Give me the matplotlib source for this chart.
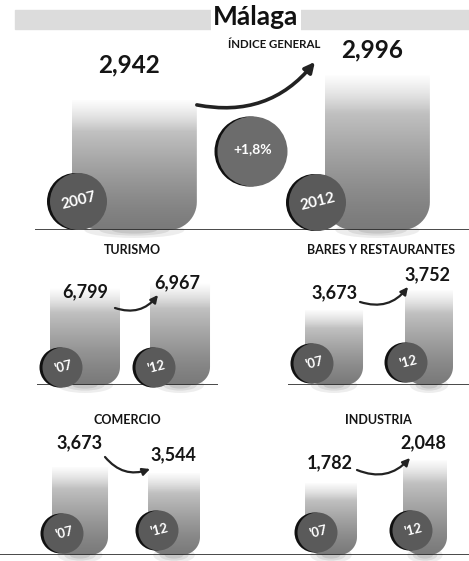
import numpy as np
import matplotlib.pyplot as plt
from matplotlib.path import Path
from matplotlib.patches import PathPatch, Rectangle, Ellipse
from matplotlib.transforms import offset_copy

plt.rcParams['font.family'] = ['Lato', 'DejaVu Sans']

# datos (en miles de euros, coma decimal en las etiquetas)
sectores = ["ÍNDICE GENERAL", "TURISMO", "BARES Y RESTAURANTES", "COMERCIO", "INDUSTRIA"]
val_2007 = [2.942, 6.799, 3.673, 3.673, 1.782]
val_2012 = [2.996, 6.967, 3.752, 3.544, 2.048]
anios_largo = ["2007", "2012"]
anios_corto = ["'07", "'12"]

W, H = 469, 561
fig = plt.figure(figsize=(W / 100, H / 100), dpi=100)


def fmt(v):
    return f"{v:.3f}".replace(".", ",")


# maquetacion de cada panel (pixeles de la imagen)
paneles = [
    dict(box=(35, 30, 469, 230), xlim=(-0.409, 1.377), ylim=(2.661, 3.093), w=(0.514, 0.432),
         r=28, lab=((-5, 35), (-5, 25)), arr=((0, -5), (-10, 13)), rad=0.3, fs=17.5,
         circ=((6, 29), (-8, 28)), d=57, cfs=11),
    dict(box=(37, 260, 218, 385), xlim=(-0.505, 1.40), ylim=(3.540, 7.740), w=(0.737, 0.632),
         r=18, lab=((0, -4), (-3, 0)), arr=((-5, -20), (8, -12)), rad=0.35, fs=13,
         circ=((12, 18), (5, 18)), d=40, cfs=9.5),
    dict(box=(288, 260, 469, 385), xlim=(-0.484, 1.421), ylim=(3.377, 3.870), w=(0.611, 0.505),
         r=18, lab=((1, 17), (-2, 15)), arr=((-3, 8), (3, 3)), rad=0.35, fs=13,
         circ=((8, 22), (2, 23)), d=40, cfs=9.5),
    dict(box=(0, 430, 234, 555), xlim=(-0.851, 1.638), ylim=(1.781, 4.468), w=(0.596, 0.553),
         r=18, lab=((0, 24), (-1, 18)), arr=((-3, 10), (2, 4)), rad=0.35, fs=13,
         circ=((11, 22), (10, 25)), d=40, cfs=9.5),
    dict(box=(234, 430, 469, 555), xlim=(-1.032, 1.468), ylim=(0.949, 2.395), w=(0.553, 0.468),
         r=18, lab=((-1, 20), (-2, 17)), arr=((0, 13), (7, 2)), rad=0.35, fs=13,
         circ=((12, 23), (9, 25)), d=40, cfs=9.5),
]


def fondo_redondo(x0, y0, w, h, rx, ry):
    t1 = np.linspace(np.pi, 1.5 * np.pi, 16)
    t2 = np.linspace(1.5 * np.pi, 2 * np.pi, 16)
    pts = [(x0, y0 + h)]
    pts += list(zip(x0 + rx + rx * np.cos(t1), y0 + ry + ry * np.sin(t1)))
    pts += list(zip(x0 + w - rx + rx * np.cos(t2), y0 + ry + ry * np.sin(t2)))
    pts += [(x0 + w, y0 + h), (x0, y0 + h)]
    return Path(pts, closed=True)


def desplaza(ax, dx, dy):
    return offset_copy(ax.transData, fig=fig, x=dx, y=dy, units='dots')


# degradado vertical de las barras
n = 200
t = np.linspace(0, 1, n)
gris = 0.48 + (0.88 - 0.48) * t ** 1.3
alfa = np.clip((1 - t) / 0.25, 0, 1) ** 0.8
img = np.stack([gris, gris, gris, alfa], axis=1).reshape(n, 1, 4)

for i, p in enumerate(paneles):
    l, tp, r, b = p['box']
    ax = fig.add_axes([l / W, 1 - b / H, (r - l) / W, (b - tp) / H])
    ax.set_xlim(*p['xlim'])
    ax.set_ylim(*p['ylim'])
    ax.axis('off')
    y0 = p['ylim'][0]
    vals = [val_2007[i], val_2012[i]]

    barras = ax.bar([0, 1], [v - y0 for v in vals], bottom=y0, width=p['w'],
                    color='none', edgecolor='none')
    ppx = ax.bbox.width / (p['xlim'][1] - p['xlim'][0])
    ppy = ax.bbox.height / (p['ylim'][1] - p['ylim'][0])
    for rect in barras:
        bx, by, bw, bh = rect.get_x(), rect.get_y(), rect.get_width(), rect.get_height()
        rpx = min(p['r'], bw * ppx / 2)
        camino = fondo_redondo(bx, by, bw, bh, rpx / ppx, rpx / ppy)
        clip = PathPatch(camino, transform=ax.transData, fc='none', ec='none')
        im = ax.imshow(img, extent=(bx, bx + bw, by, by + bh), origin='lower',
                       aspect='auto', interpolation='bilinear', zorder=1)
        im.set_clip_path(clip)
        # sombra difusa bajo la linea base
        for esc, a in ((1.0, 0.10), (0.7, 0.12), (0.45, 0.15)):
            ax.add_patch(Ellipse((bx + bw / 2, by), bw * 0.8 * esc, 16 * esc / ppy,
                                 fc='#555555', ec='none', alpha=a, zorder=0.5,
                                 clip_on=False))

    ax.axhline(y0, color='#2a2a2a', lw=1.2, zorder=2)

    # etiquetas de valor
    for k in range(2):
        dx, dy = p['lab'][k]
        ax.text(k, vals[k], fmt(vals[k]), transform=desplaza(ax, dx, dy),
                ha='center', va='center', fontsize=p['fs'], fontweight='bold',
                color='#151515', zorder=6)

    # flecha curva
    r0, r1 = barras[0], barras[1]
    (sx, sy), (ex, ey) = p['arr']
    ax.annotate('', xy=(r1.get_x(), vals[1]), xycoords=desplaza(ax, ex, ey),
                xytext=(r0.get_x() + r0.get_width(), vals[0]),
                textcoords=desplaza(ax, sx, sy),
                arrowprops=dict(arrowstyle='-|>', connectionstyle=f"arc3,rad={p['rad']}",
                                color='#222222', lw=2.6 if i == 0 else 1.6,
                                mutation_scale=15 if i == 0 else 11,
                                shrinkA=0, shrinkB=0), zorder=6)

    # circulos con el anio
    etiquetas = anios_largo if i == 0 else anios_corto
    for k, rect in enumerate(barras):
        dx, dy = p['circ'][k]
        ms = p['d'] * 0.72
        ax.plot([rect.get_x()], [y0], 'o', ms=ms, mfc='#111111', mec='none',
                transform=desplaza(ax, dx - 3, dy), zorder=3, clip_on=False)
        ax.plot([rect.get_x()], [y0], 'o', ms=ms, mfc='#5a5a5a', mec='none',
                transform=desplaza(ax, dx, dy), zorder=3, clip_on=False)
        ax.text(rect.get_x(), y0, etiquetas[k], transform=desplaza(ax, dx + 1, dy),
                ha='center', va='center', color='white', fontweight='bold',
                fontsize=p['cfs'], rotation=14, zorder=4)

    if i == 0:
        cambio = (val_2012[0] / val_2007[0] - 1) * 100
        ax.plot([0.5], [y0], 'o', ms=70 * 0.72, mfc='#111111', mec='none',
                transform=desplaza(ax, -7, 79), zorder=3, clip_on=False)
        ax.plot([0.5], [y0], 'o', ms=70 * 0.72, mfc='#6c6c6c', mec='none',
                transform=desplaza(ax, -4, 79), zorder=3, clip_on=False)
        ax.text(0.5, y0, f"+{cambio:.1f}%".replace(".", ","),
                transform=desplaza(ax, -3, 81), ha='center', va='center',
                color='white', fontweight='bold', fontsize=10, zorder=4)
        ax.text(1, vals[1], sectores[0], transform=desplaza(ax, -57, 30),
                ha='right', va='center', fontsize=8.3, fontweight='bold', color='#151515')
    else:
        ax.annotate(sectores[i], xy=(0.5, 1), xycoords=('data', 'axes fraction'),
                    xytext=(0, 10), textcoords='offset pixels', ha='center',
                    va='center', fontsize=9, fontweight='bold', color='#151515')

# franja gris y titulo
fig.patches.append(Rectangle((15 / W, 1 - 29 / H), 454 / W, 19 / H,
                             transform=fig.transFigure, color='#dcdcdc', zorder=0))
fig.text(256 / W, 1 - 17 / H, "Málaga", ha='center', va='center', fontsize=19,
         fontweight='bold', color='#111111',
         bbox=dict(boxstyle='square,pad=0.1', fc='white', ec='none'))

fig.savefig('out.png', dpi=100)
